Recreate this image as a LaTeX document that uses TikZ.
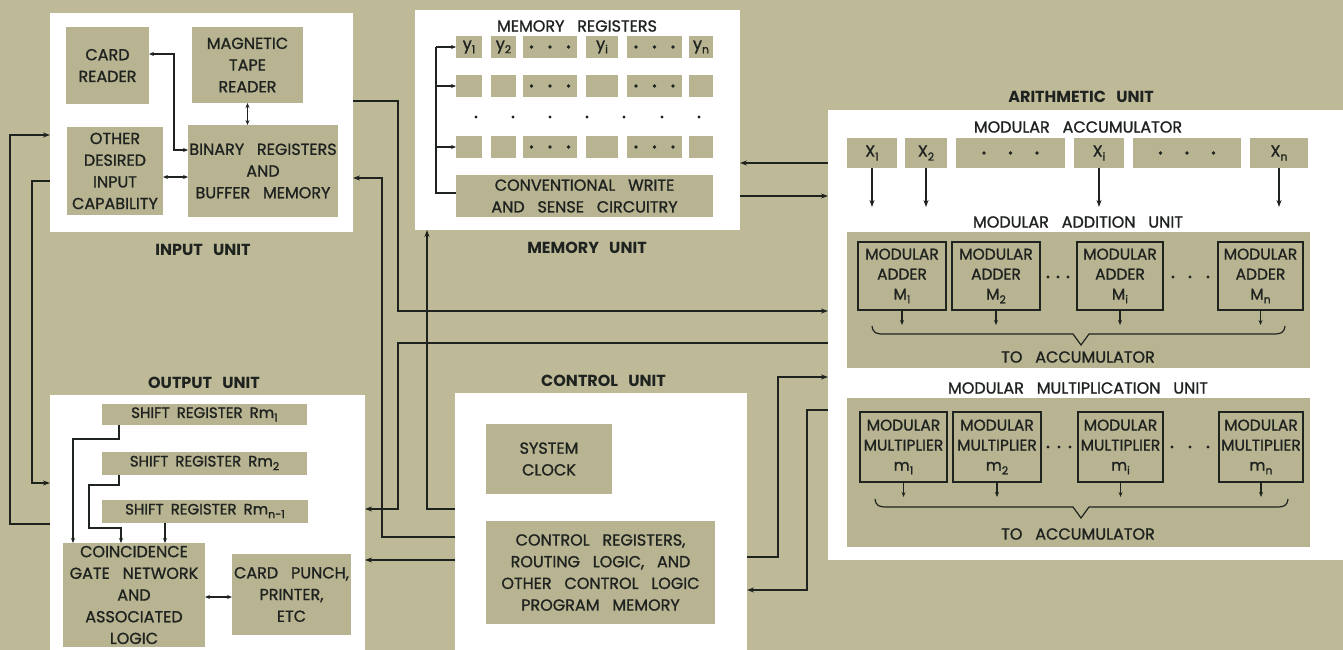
\documentclass[tikz,border=0pt]{standalone}
\usepackage{fontspec}
\setmainfont{Poppins}[WordSpace=3,UprightFeatures={FakeBold=1.2}]
\usetikzlibrary{arrows.meta,calc}
\definecolor{bgc}{HTML}{BEBA98}
\definecolor{gbc}{HTML}{B8B492}
\definecolor{ink}{HTML}{1F2320}
\newcommand{\bxf}{\fontsize{16}{21.7}\selectfont}
\newcommand{\lbf}{\fontsize{16}{18}\selectfont\bfseries}
\newcommand{\srf}{\fontsize{15}{18}\selectfont\spaceskip=7pt\relax}
\newcommand{\sbx}[1]{\raisebox{-0.45ex}{\fontsize{11}{11}\selectfont #1}}
\begin{document}
\begin{tikzpicture}[x=1pt,y=-1pt,
  wh/.style 2 args={minimum width=#1,minimum height=#2},
  panel/.style={fill=white,inner sep=0pt,outer sep=0pt},
  gbox/.style={fill=gbc,inner sep=0pt,outer sep=0pt,align=center,font=\bxf,text=ink},
  srbox/.style={gbox,font=\srf},
  mbox/.style={gbox,draw=ink,line width=1.3pt,font=\fontsize{15.5}{20}\selectfont},
  lbl/.style={font=\lbf,text=ink,inner sep=0pt},
  ttl/.style={font=\bxf,text=ink,inner sep=0pt},
  wire/.style={draw=ink,line width=1.2pt},
  arr/.style={wire,-{Stealth[length=7pt,width=5pt]}},
  sarr/.style={wire,-{Stealth[length=5pt,width=4pt]}},
  darr/.style={wire,{Stealth[length=5pt,width=4pt]}-{Stealth[length=5pt,width=4pt]}},
]
\fill[bgc] (0,0) rectangle (1343,650);
\useasboundingbox (0,0) rectangle (1343,650);

% ---------------- INPUT UNIT
\node[panel,wh={303}{219}] (inp) at (201.5,122.5) {};
\node[gbox,wh={83}{77}] (card) at (107.5,65.5) {CARD\\READER};
\node[gbox,wh={111}{76}] (tape) at (247.5,65) {MAGNETIC\\TAPE\\READER};
\node[gbox,wh={96}{88}] (oth) at (115,171) {OTHER\\DESIRED\\INPUT\\CAPABILITY};
\node[gbox,wh={150}{92}] (bin) at (263,171) {BINARY REGISTERS\\AND\\BUFFER MEMORY};
\node[lbl] (inlbl) at (203,250) {INPUT UNIT};
\draw[darr] (card.east |- 0,54) -| (174,150) -- (bin.west |- 0,150);
\draw[darr] (tape.south) -- (tape.south |- bin.north);
\draw[darr] (oth.east |- 0,177) -- (bin.west |- 0,177);

% ---------------- MEMORY UNIT
\node[panel,wh={325}{220}] (mem) at (577.5,120) {};
\node[ttl] (memreg) at (577,26) {MEMORY REGISTERS};
\node[gbox,wh={26}{22}] (m11) at (469,47) {y\sbx{1}};
\node[gbox,wh={25}{22}] (m12) at (503.5,47) {y\sbx{2}};
\node[gbox,wh={54}{22}] (m13) at (550,47) {};
\node[gbox,wh={32}{22}] (m14) at (602,47) {y\sbx{i}};
\node[gbox,wh={55}{22}] (m15) at (654.5,47) {};
\node[gbox,wh={24}{22}] (m16) at (701,47) {y\sbx{n}};
\foreach \r/\y in {2/86,3/147}{
  \foreach \c/\x/\w in {1/469/26,2/503.5/25,3/550/54,4/602/32,5/654.5/55,6/701/24}{
    \node[gbox,wh={\w}{22}] (m\r\c) at (\x,\y) {};
  }
}
\foreach \r in {1,2,3}{\foreach \c in {3,5}{\foreach \d in {-1,0,1}{
  \fill[ink] ($(m\r\c.center)+(\d*18.5,0)$) circle (1.8);}}}
\foreach \x in {476,513,550,587,624,662,699}{\fill[ink] (\x,117) circle (1.6);}
\node[gbox,wh={257}{42}] (wr) at (584.5,196) {CONVENTIONAL WRITE\\AND SENSE CIRCUITRY};
\node[lbl] (memlbl) at (587,248) {MEMORY UNIT};
\coordinate (busb) at (436,193);
\coordinate (bust) at (436,47);
\draw[wire] (wr.west |- busb) -- (busb) -- (bust);
\draw[sarr] (bust) -- (m11.west);
\draw[sarr] (busb |- m21.west) -- (m21.west);
\draw[sarr] (busb |- m31.west) -- (m31.west);

% ---------------- ARITHMETIC UNIT
\node[panel,wh={515}{450}] (ar) at (1085.5,335) {};
\node[lbl] (arlbl) at (1081,97) {ARITHMETIC UNIT};
\node[ttl] (acclbl) at (1078,127) {MODULAR ACCUMULATOR};
\node[gbox,wh={50}{30}] (x1) at (872,153) {X\sbx{1}};
\node[gbox,wh={42}{30}] (x2) at (926,153) {X\sbx{2}};
\node[gbox,wh={109}{30}] (xd1) at (1010.5,153) {};
\node[gbox,wh={50}{30}] (xi) at (1099,153) {X\sbx{i}};
\node[gbox,wh={108}{30}] (xd2) at (1187,153) {};
\node[gbox,wh={58}{30}] (xn) at (1279,153) {X\sbx{n}};
\foreach \n in {xd1,xd2}{\foreach \d in {-1,0,1}{
  \fill[ink] ($(\n.center)+(\d*26.5,0)$) circle (1.9);}}
\foreach \n in {x1,x2,xi,xn}{\draw[arr] (\n.south) -- ++(0,39);}
\node[ttl] (addlbl) at (1078,222) {MODULAR ADDITION UNIT};
\node[gbox,wh={463}{136}] (addu) at (1078.5,300) {};
\node[mbox,wh={88}{68}] (a1) at (902,276) {MODULAR\\ADDER\\M\sbx{1}};
\node[mbox,wh={88}{68}] (a2) at (996,276) {MODULAR\\ADDER\\M\sbx{2}};
\node[mbox,wh={86}{68}] (ai) at (1120,276) {MODULAR\\ADDER\\M\sbx{i}};
\node[mbox,wh={85}{68}] (an) at (1260.5,276) {MODULAR\\ADDER\\M\sbx{n}};
\foreach \x in {1048,1058,1068}{\fill[ink] (\x,277) circle (1.7);}
\foreach \x in {1173,1190,1208}{\fill[ink] (\x,277) circle (1.7);}
\foreach \n in {a1,a2,ai,an}{\draw[sarr] (\n.south) -- ++(0,15);}
\draw[wire] (872,326) .. controls (873,333) and (876,334) .. (884,334) -- (1073,334)
  -- (1081,345) -- (1089,334) -- (1273,334) .. controls (1281,334) and (1284,333) .. (1285,326);
\node[ttl] (toacc1) at (1078,357) {TO ACCUMULATOR};
\node[ttl] (mullbl) at (1078,388) {MODULAR MULTIPLICATION UNIT};
\node[gbox,wh={463}{149}] (mulu) at (1078.5,472.5) {};
\node[mbox,wh={87}{70}] (p1) at (903.5,447) {MODULAR\\MULTIPLIER\\m\sbx{1}};
\node[mbox,wh={88}{70}] (p2) at (997,447) {MODULAR\\MULTIPLIER\\m\sbx{2}};
\node[mbox,wh={85}{70}] (pi) at (1120.5,447) {MODULAR\\MULTIPLIER\\m\sbx{i}};
\node[mbox,wh={84}{70}] (pn) at (1261,447) {MODULAR\\MULTIPLIER\\m\sbx{n}};
\foreach \x in {1048,1059,1070}{\fill[ink] (\x,447) circle (1.7);}
\foreach \x in {1172,1190,1208}{\fill[ink] (\x,447) circle (1.7);}
\foreach \n in {p1,p2,pi,pn}{\draw[sarr] (\n.south) -- ++(0,15);}
\draw[wire] (875,499) .. controls (876,506) and (879,507) .. (887,507) -- (1073,507)
  -- (1081,518) -- (1089,507) -- (1276,507) .. controls (1284,507) and (1287,506) .. (1288,499);
\node[ttl] (toacc2) at (1078,534) {TO ACCUMULATOR};

% ---------------- OUTPUT UNIT
\node[panel,wh={315}{260}] (outp) at (207.5,525) {};
\node[lbl] (outlbl) at (204,383) {OUTPUT UNIT};
\node[srbox,wh={205}{21}] (rm1) at (204.5,414.5) {SHIFT REGISTER Rm\sbx{1}};
\node[srbox,wh={205}{23}] (rm2) at (204.5,463) {SHIFT REGISTER Rm\sbx{2}};
\node[srbox,wh={206}{23}] (rmn) at (205,511) {SHIFT REGISTER Rm\sbx{n-1}};
\node[gbox,wh={142}{104}] (coin) at (134,595) {COINCIDENCE\\GATE NETWORK\\AND\\ASSOCIATED\\LOGIC};
\node[gbox,wh={119}{81}] (punch) at (291.5,594.5) {CARD PUNCH,\\PRINTER,\\ETC};
\draw[sarr] (rm1.south -| 119,0) |- (73,439) -- (coin.north -| 73,0);
\draw[sarr] (rm2.south -| 119,0) -- (119,485) -| (89,528) -| (coin.north -| 121,0);
\draw[sarr] (rmn.south -| 165,0) -- (coin.north -| 165,0);
\draw[darr] (coin.east |- 0,597) -- (punch.west |- 0,597);

% ---------------- CONTROL UNIT
\node[panel,wh={292}{262}] (ctl) at (601,524) {};
\node[lbl] (ctllbl) at (603.5,381) {CONTROL UNIT};
\node[gbox,wh={126}{70}] (clk) at (549,459) {SYSTEM\\CLOCK};
\node[gbox,wh={229}{103}] (creg) at (600.5,572.5) {CONTROL REGISTERS,\\ROUTING LOGIC, AND\\OTHER CONTROL LOGIC\\PROGRAM MEMORY};

% ---------------- inter-unit wires
\draw[arr] (outp.west |- 0,524) -| (10,135) -- (inp.west |- 0,135);
\draw[arr] (inp.west |- 0,181) -| (32,483) -- (outp.west |- 0,483);
\draw[arr] (inp.east |- 0,101) -| (398,311) -- (ar.west |- 0,311);
\draw[arr] (ctl.west |- 0,537) -| (382,178) -- (inp.east |- 0,178);
\draw[arr] (ar.west |- 0,343) -| (398,509) -- (outp.east |- 0,509);
\draw[arr] (ctl.west |- 0,560) -- (outp.east |- 0,560);
\draw[arr] (ctl.west |- 0,509) -| (mem.south -| 427,0);
\draw[arr] (ctl.east |- 0,557) -| (778,377) -- (ar.west |- 0,377);
\draw[arr] (ar.west |- 0,410) -| (807,590) -- (ctl.east |- 0,590);
\draw[arr] (ar.west |- 0,163) -- (mem.east |- 0,163);
\draw[arr] (mem.east |- 0,196) -- (ar.west |- 0,196);
\end{tikzpicture}
\end{document}
